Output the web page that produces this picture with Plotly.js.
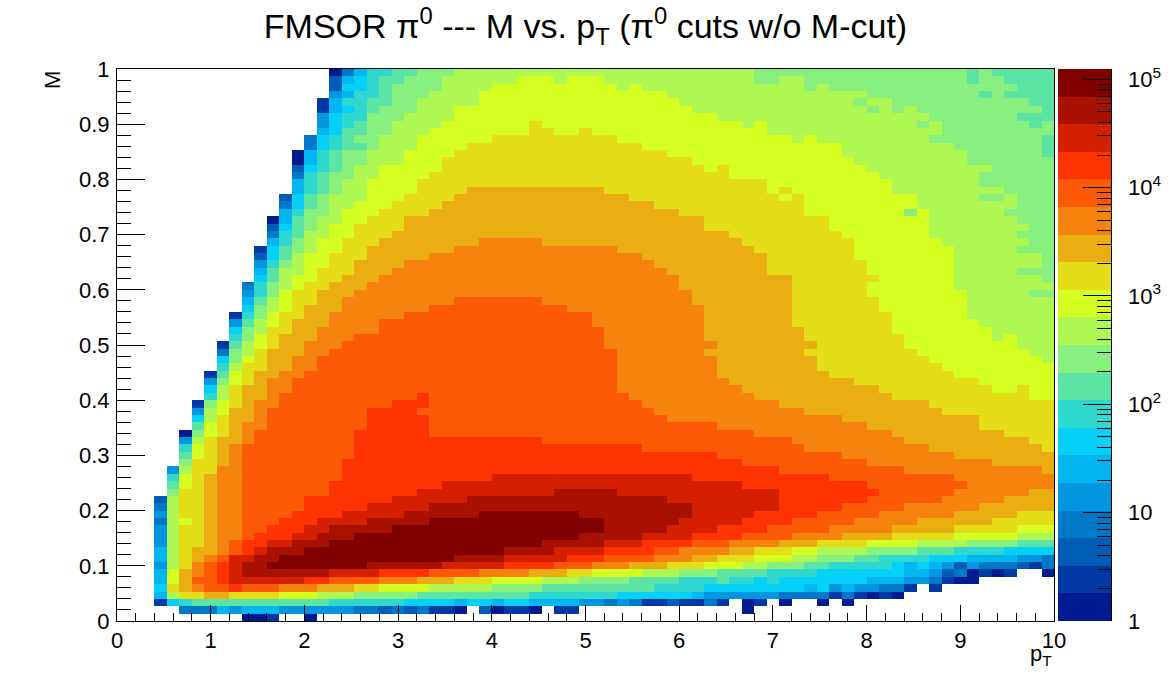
<!DOCTYPE html>
<html>
<head>
<meta charset="utf-8">
<script src="https://cdn.plot.ly/plotly-3.0.1.min.js"></script>
<style>html,body{margin:0;padding:0;background:#fff}</style>
</head>
<body>
<div id="chart" style="width:1170px;height:691px"></div>
<script>
// Band colours of the 20-step palette, lowest (a) to highest (t)
const bandColors = ["#001A90","#0039A3","#005CB5","#0078C8","#0196DF","#02B6F2","#05D0F7","#2ED8CE","#5CE4A5","#88F07F",
  "#AFF752","#D5FF20","#E5DD18","#EBAE12","#F5830E","#FC5A06","#FF3300","#D42000","#A81000","#800000"];
const bandLetters = "abcdefghijklmnopqrst";
const decades = 5.095;          // log10 of the colour-scale maximum
const nBins = 75;
const xMax = 10, yMax = 1;

// Each row, top (M=1) to bottom (M=0): band letter + last p_T bin of the run; "." = empty
const rows = [
".16 a17 d18 f19 h21 i23 j26 k50 j67 i68 j69 i74",
".16 c17 f18 g19 h20 i22 j25 k31 l34 k35 l38 k50 j52 k54 j67 i68 j70 i74",
".16 c17 g19 h20 i21 j25 k29 l39 k40 l41 k54 j55 k56 j71 i74",
".16 e17 f18 h20 i21 j24 k28 l43 k59 j68 i69 j70 i74",
".15 b16 f17 h19 i21 j23 k28 l44 k58 j59 k61 j72 i74",
".15 b16 f17 g18 h19 i20 j23 k26 l45 k59 j60 k61 j62 k63 j73 i74",
".15 e16 g17 h19 j22 k26 l47 k64 j71 i74",
".15 e16 g17 h18 i19 j21 k25 l32 m33 l49 k50 l51 k63 j64 k65 j72 i73 j74",
".15 f16 g17 i19 j21 k24 l32 m34 l36 m37 l51 k65 j74",
".14 d15 g16 h17 i18 j20 k23 l29 m39 l53 k54 l55 k64 j73 i74",
".14 d15 g16 h17 i19 j20 k23 l27 m41 l57 k66 j73 i74",
".13 a14 f15 h16 i17 j19 k22 l26 m43 l57 k67 j73 i74",
".13 a14 f15 h16 i17 j19 k22 l25 m45 l58 k67 j74",
".13 c14 g15 h16 i17 j18 k20 l25 m46 l47 m48 l59 k69 j74",
".13 d14 h15 i16 j18 k20 l24 m48 l60 k68 j74",
".13 f14 h15 i16 j17 k19 l23 m51 l61 k68 j74",
".13 f14 h15 i16 j17 k19 l23 m27 n38 m51 l52 m53 l61 k70 j74",
".12 c13 g14 i15 j16 k19 l22 m26 n40 m52 l53 m54 l63 k68 j70 k71 j74",
".12 d13 g14 i15 j16 k18 l21 m25 n42 m54 l63 k71 j74",
".12 f13 h14 j16 k17 l20 m24 n44 m54 l62 j63 l64 k70 j74",
".11 a12 f13 i14 j15 k17 l19 m22 n46 m56 l64 k71 j74",
".11 c12 g13 i14 j15 k16 l18 m22 n46 m56 l64 k72 j74",
".11 d12 h13 i14 k16 l18 m21 n48 m57 l64 k71 j74",
".11 f12 h13 j14 k15 l17 m20 n28 o33 n49 m58 l65 k72 j74",
".10 b11 g12 i13 j14 k15 l17 m19 n26 o39 n50 m58 l66 k71 j74",
".10 c11 g12 i13 k14 l16 m19 n24 o41 n51 m58 l66 k73 j74",
".10 e11 h12 j13 k14 l16 m18 n22 o42 n51 m59 l66 k73 j74",
".10 f11 i12 k14 l15 m18 n21 o43 n51 m59 l66 k71 j74",
".10 g11 i12 k13 l15 m17 n20 o44 n53 m60 l66 k73 j74",
".9 d10 h11 j12 k13 l14 m16 n19 o44 n53 m59 l66 k74",
".9 e10 h11 j12 l13 m15 n18 o45 n53 m59 l67 k72 j74",
".9 f10 i11 k12 l13 m15 n17 o26 p33 o45 n53 m60 l67 k74",
".9 g10 j11 k12 l13 m14 n17 o24 p35 o46 n53 m60 l67 k74",
".8 b9 h10 j11 l12 m14 n16 o22 p37 o46 n53 m61 l67 k74",
".8 e9 i10 k11 l12 m13 n16 o20 p37 o46 n53 m61 l68 k74",
".8 g9 j10 k11 m13 n15 o20 p38 o46 n54 m61 l69 k74",
".8 h9 j10 l11 m12 n15 o18 p38 o46 n54 m62 l69 k70 l71 k74",
".7 b8 i9 k10 l11 m12 n14 o17 p38 o47 n55 m62 l71 k74",
".7 d8 j9 k10 m11 n14 o16 p39 o46 n54 m63 l72 k74",
".7 g8 j9 l10 m11 n13 o15 p39 o47 n55 m64 l73 k74",
".7 h8 k9 m11 n13 o15 p39 o47 n55 m65 l74",
".6 b7 i8 l9 m10 n12 o14 p39 o47 n56 m66 l74",
".6 e7 j8 l9 m10 n11 o13 p39 o48 n58 m68 l74",
".6 g7 k8 m9 n11 o13 p39 o49 n60 m69 l71 m72 l74",
".6 h7 k8 m9 n11 o12 p23 q24 p40 o50 n61 m72 l74",
".5 b6 j7 l8 m9 n10 o12 p21 q24 p41 o52 n64 m74",
".5 e6 k7 l8 n10 o11 p19 q23 p42 o54 n65 m74",
".5 g6 k7 m8 n10 o11 p19 q24 p43 o57 n68 m74",
".5 i6 l7 m8 n9 o11 p19 q24 p47 o59 n68 m74",
".4 a5 j6 l7 m8 n9 o10 p18 q24 p50 o61 n70 m74",
".4 e5 k6 m7 n9 o10 p18 q33 p53 o62 n72 m74",
".4 h5 l6 m7 n8 o9 p18 q41 p54 o64 n73 m74",
".4 i5 l6 m7 n8 o9 p18 q47 p57 o66 n74",
".4 j5 m7 n8 o9 p17 q49 p59 o69 n74",
".3 e4 k5 m7 o9 p17 q52 p62 o73 n74",
".3 h4 l5 m6 n7 o9 p17 q29 r45 q56 p66 o74",
".3 i4 l5 m6 n7 o9 p16 q25 r49 q59 p67 o74",
".3 j4 m6 n7 o9 p16 q23 r34 s39 r52 q60 p66 o72 n74",
".2 c3 k4 m6 n7 o9 p14 q21 r27 s43 r52 q59 p65 o70 n74",
".2 d3 k4 m6 n7 o9 p14 q19 r24 s45 r52 q57 p62 o68 n74",
".2 e3 k4 m6 n7 o9 p13 q17 r22 s28 t36 s45 r50 q55 p60 o66 n71 m74",
".2 d3 k4 l5 m6 n7 o9 p12 q15 r19 s24 t38 s44 r49 q53 p58 o63 n69 m74",
".2 e3 k4 m6 n7 o9 p11 q14 r16 s21 t38 s43 r47 q51 p56 o61 n66 m71 l74",
".2 e3 k4 m6 n7 o9 p10 q13 r15 s18 t36 s41 r45 q49 p53 o57 n61 m66 l71 k74",
".2 e3 k4 m6 n7 o8 p9 q11 r13 s16 t33 s38 r41 q45 p48 o52 n55 m59 l63 k67 j71 i74",
".2 f3 k4 m5 n7 o8 p9 q10 r11 s14 t30 s34 r38 q42 p44 o48 n50 m53 l55 k59 j63 i66 h70 g74",
".2 f3 k4 m5 n6 o7 p8 r10 s12 t26 s30 r35 q38 p42 o45 n47 m50 l53 k55 j58 i60 h64 g67 f71 e73 d74",
".2 e3 k4 m5 o6 p7 q8 r9 s11 t19 s25 r30 q34 p37 o40 n43 m46 l49 k51 j54 i56 h61 g62 f63 g64 f65 e66 c67 e68 d71 c72 b73 d74",
".2 f3 l4 n5 o6 p7 q8 r9 s16 r20 q24 p28 o32 n35 m37 l41 k44 j47 i51 h55 g62 f64 e65 c66 d67 a68 b69 a70 b71 .73 a74",
".2 f3 l4 n5 p7 q8 r14 q16 p20 o23 n26 m29 l33 k36 j40 i44 h47 i48 h50 g51 h52 g59 f62 e64 d65 b66 a68 .74",
".2 g3 m4 n5 o6 p8 q9 p12 o15 n18 m20 l24 k29 j33 i42 h46 g54 f55 g56 e57 f58 e60 d62 b63 .64 b65 .74",
".2 f3 k4 m6 n8 m12 l15 k18 j23 i32 h39 g45 f46 e52 d56 b57 d58 b59 a60 b61 a62 .74",
".2 b3 g4 h5 i16 h22 g26 f27 g29 f30 g32 f36 e38 d39 e40 d41 b43 c44 b46 d47 b48 .49 a50 b51 .52 a53 .55 a56 .57 a58 .74",
".4 d7 f8 e9 f12 e18 d20 c21 d22 c23 d24 b26 a27 .28 c29 a30 b32 a33 .34 b36 .49 a50 .74",
".9 a11 b12 .14 a15 .74"
];

const barMajorVals = [0, 1, 2, 3, 4, 5];
const barMajorText = ["\u00a0\u00a01", "\u00a0\u00a010", "\u00a0\u00a010<sup>2</sup>", "\u00a0\u00a010<sup>3</sup>", "\u00a0\u00a010<sup>4</sup>", "\u00a0\u00a010<sup>5</sup>"];
const barMinorFactors = [2, 3, 4, 5, 6, 7, 8, 9];

const titleText = "FMSOR π<sup>0</sup> --- M vs. p<sub>T</sub> (π<sup>0</sup> cuts w/o M-cut)";
const xLabel = "p<sub>T</sub>";
const yLabel = "M";

// ---- decode ----
const bandWidth = decades / bandColors.length;
function decodeRow(s) {
  const out = new Array(nBins).fill(null);
  let col = 0;
  s.split(" ").forEach(tok => {
    const ch = tok[0], last = parseInt(tok.slice(1), 10);
    const lvl = bandLetters.indexOf(ch);
    for (; col <= last && col < nBins; col++) out[col] = lvl < 0 ? null : (lvl + 0.5) * bandWidth;
  });
  return out;
}
const z = rows.slice().reverse().map(decodeRow);
const xs = Array.from({length: nBins}, (_, i) => (i + 0.5) * xMax / nBins);
const ys = Array.from({length: nBins}, (_, i) => (i + 0.5) * yMax / nBins);

// stepped colour scale
const colorscale = [];
bandColors.forEach((c, i) => {
  colorscale.push([i / bandColors.length, c]);
  colorscale.push([(i + 1) / bandColors.length, c]);
});

const minorVals = [];
for (let d = 0; d < 6; d++) barMinorFactors.forEach(f => {
  const v = d + Math.log10(f);
  if (v < decades) minorVals.push(v);
});

const barX = (1058 - 117) / 937;
const FONT = "Liberation Sans, Arial, Helvetica, sans-serif";

const traces = [
  { type: "heatmap", x: xs, y: ys, z: z, zmin: 0, zmax: decades, colorscale: colorscale,
    hoverongaps: false, zsmooth: false,
    colorbar: { x: barX, xanchor: "left", xpad: 0, ypad: 0, y: 0, yanchor: "bottom", len: 1, lenmode: "fraction",
      thickness: 53, thicknessmode: "pixels", outlinewidth: 0, borderwidth: 0,
      tickmode: "array", tickvals: barMajorVals, ticktext: barMajorText,
      ticks: "inside", ticklen: 28, tickwidth: 1, tickcolor: "#000",
      tickfont: { family: FONT, size: 22, color: "#000" } } },
  // transparent twin scale: carries only the short minor ticks of the colour bar
  { type: "heatmap", x: [-5], y: [-5], z: [[0]], zmin: 0, zmax: decades, hoverinfo: "skip",
    colorscale: [[0, "rgba(0,0,0,0)"], [1, "rgba(0,0,0,0)"]],
    colorbar: { x: barX, xanchor: "left", xpad: 0, ypad: 0, y: 0, yanchor: "bottom", len: 1, lenmode: "fraction",
      thickness: 53, thicknessmode: "pixels", outlinewidth: 0, borderwidth: 0, bgcolor: "rgba(0,0,0,0)",
      tickmode: "array", tickvals: minorVals, showticklabels: false,
      ticks: "inside", ticklen: 14, tickwidth: 1, tickcolor: "#000" } }
];

const layout = {
  width: 1170, height: 691, autosize: false,
  margin: { l: 117, r: 116, t: 69, b: 70, pad: 0, autoexpand: false },
  paper_bgcolor: "#fff", plot_bgcolor: "#fff",
  font: { family: FONT, color: "#000" },
  title: { text: titleText, font: { family: FONT, size: 34, color: "#000" }, x: 0.5, xanchor: "center", xref: "paper", y: 0.962, yanchor: "middle", yref: "container" },
  xaxis: { range: [0, xMax], dtick: 1, tick0: 0, ticks: "inside", ticklen: 16, tickwidth: 1, tickcolor: "#000",
    minor: { dtick: 0.2, tick0: 0, ticks: "inside", ticklen: 8, tickwidth: 1, tickcolor: "#000", showgrid: false },
    showgrid: false, zeroline: false, showline: true, linecolor: "#000", linewidth: 1, mirror: true,
    tickfont: { family: FONT, size: 22, color: "#000" }, fixedrange: true },
  yaxis: { range: [0, yMax], dtick: 0.1, tick0: 0, ticks: "inside", ticklen: 28, tickwidth: 1, tickcolor: "#000",
    minor: { dtick: 0.02, tick0: 0, ticks: "inside", ticklen: 14, tickwidth: 1, tickcolor: "#000", showgrid: false },
    showgrid: false, zeroline: false, showline: true, linecolor: "#000", linewidth: 1, mirror: true,
    ticklabelstandoff: 2,
    tickfont: { family: FONT, size: 22, color: "#000" }, fixedrange: true },
  annotations: [
    { text: xLabel, xref: "paper", yref: "paper", x: 1, y: -0.032, xanchor: "right", yanchor: "top", showarrow: false,
      font: { family: FONT, size: 22, color: "#000" } },
    { text: yLabel, xref: "paper", yref: "paper", x: -0.0694, y: 1, xanchor: "center", yanchor: "top", textangle: -90, showarrow: false,
      font: { family: FONT, size: 22, color: "#000" } }
  ],
  shapes: [
    { type: "line", xref: "paper", yref: "paper", x0: (1111.5 - 117) / 937, x1: (1111.5 - 117) / 937, y0: 0, y1: 1,
      line: { color: "#000", width: 1 } }
  ]
};

Plotly.newPlot("chart", traces, layout, { displayModeBar: false, responsive: false });
</script>
</body>
</html>
